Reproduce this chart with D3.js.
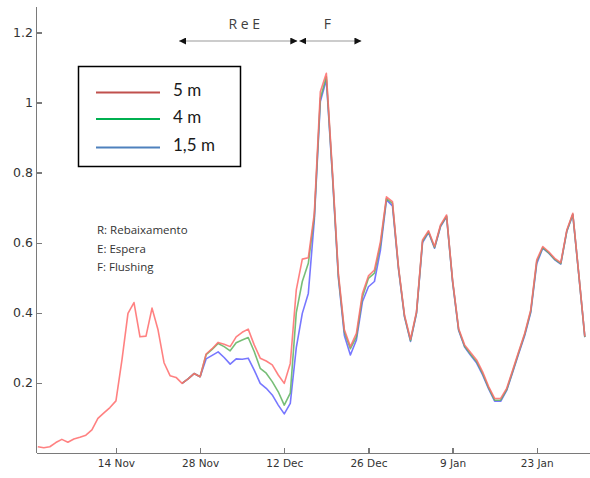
<!DOCTYPE html>
<html>
<head>
<meta charset="utf-8">
<script src="https://cdn.jsdelivr.net/npm/d3@7"></script>
<style>
    body {margin: 0; background: #fff;}
    svg {display: block; background: #fff;}
    .axis path, .axis line {stroke: #7a7a7a; stroke-width: 1.3; shape-rendering: crispEdges;}
    .y-axis text {font-family: "DejaVu Sans", sans-serif; font-size: 12.5px; fill: #333;}
    .x-axis text {font-family: "DejaVu Sans", sans-serif; font-size: 10.5px; fill: #333;}
    .series {fill: none; stroke-width: 1.6; stroke-linejoin: round; opacity: .85;}
    .note {font-family: "Open Sans", sans-serif; font-size: 11.5px; fill: #333;}
    .phase {font-family: "Open Sans", sans-serif; font-size: 14px; fill: #404040;}
    .legend-text {font-family: Lato, sans-serif; font-size: 17px; fill: #1a1a1a;}
</style>
</head>
<body>
<div id="chart"></div>
<script>
    // daily values, first day 1 Nov
    let redStart = "2021-11-01";
    let red5m = [0.017, 0.014, 0.017, 0.029, 0.038, 0.030, 0.039, 0.044, 0.050, 0.065,
        0.098, 0.114, 0.129, 0.148, 0.265, 0.398, 0.429, 0.331, 0.333, 0.413,
        0.351, 0.257, 0.220, 0.215, 0.198, 0.211, 0.226, 0.217, 0.282, 0.297,
        0.315, 0.310, 0.303, 0.331, 0.344, 0.353, 0.308, 0.270, 0.262, 0.251,
        0.222, 0.198, 0.255, 0.465, 0.553, 0.557, 0.684, 1.031, 1.084, 0.808,
        0.513, 0.351, 0.303, 0.341, 0.455, 0.505, 0.522, 0.603, 0.731, 0.717,
        0.531, 0.393, 0.324, 0.403, 0.608, 0.634, 0.589, 0.651, 0.679, 0.493,
        0.355, 0.308, 0.286, 0.265, 0.231, 0.189, 0.155, 0.155, 0.184, 0.236,
        0.289, 0.341, 0.408, 0.551, 0.589, 0.574, 0.555, 0.543, 0.636, 0.684,
        0.510, 0.332];

    // the 4 m and 1,5 m series start on 25 Nov
    let otherStart = "2021-11-25";
    let green4m = [0.198, 0.211, 0.226, 0.217, 0.280, 0.295, 0.312, 0.303, 0.291, 0.314,
        0.322, 0.329, 0.289, 0.241, 0.227, 0.203, 0.174, 0.136, 0.170, 0.400,
        0.489, 0.541, 0.674, 1.012, 1.074, 0.800, 0.505, 0.345, 0.297, 0.331,
        0.445, 0.498, 0.513, 0.594, 0.726, 0.712, 0.528, 0.390, 0.320, 0.400,
        0.604, 0.631, 0.586, 0.648, 0.676, 0.490, 0.352, 0.304, 0.281, 0.260,
        0.226, 0.185, 0.150, 0.150, 0.180, 0.233, 0.286, 0.338, 0.404, 0.546,
        0.586, 0.571, 0.552, 0.540, 0.633, 0.681, 0.508, 0.330];
    let blue15m = [0.198, 0.211, 0.226, 0.217, 0.268, 0.278, 0.288, 0.272, 0.253, 0.268,
        0.267, 0.270, 0.236, 0.198, 0.184, 0.165, 0.136, 0.111, 0.141, 0.300,
        0.398, 0.455, 0.665, 1.003, 1.065, 0.795, 0.500, 0.335, 0.279, 0.322,
        0.431, 0.474, 0.489, 0.579, 0.722, 0.705, 0.525, 0.388, 0.318, 0.398,
        0.600, 0.629, 0.584, 0.646, 0.674, 0.488, 0.350, 0.302, 0.278, 0.256,
        0.222, 0.182, 0.147, 0.147, 0.178, 0.230, 0.283, 0.335, 0.400, 0.540,
        0.584, 0.570, 0.551, 0.539, 0.632, 0.680, 0.507, 0.330];

    let seriesNames = ["5 m", "4 m", "1,5 m"];
    let lineColors = ["#ff6b6b", "#5fb35f", "#5f5fff"];
    let legendColors = ["#c0504d", "#00b050", "#4f81bd"];

    let xTickDates = ["2021-11-14", "2021-11-28", "2021-12-12", "2021-12-26", "2022-01-09", "2022-01-23"];
    let xTickLabels = ["14 Nov", "28 Nov", "12 Dec", "26 Dec", "9 Jan", "23 Jan"];
    let yTicks = [0.2, 0.4, 0.6, 0.8, 1, 1.2];
    let yTickLabels = ["0.2", "0.4", "0.6", "0.8", "1", "1.2"];

    let notes = ["R: Rebaixamento", "E: Espera", "F: Flushing"];
    let phaseLabels = ["R e E", "F"];
    let phaseBounds = ["2021-11-24T12:00Z", "2021-12-14T04:00Z", "2021-12-14T12:00Z", "2021-12-24T20:00Z"];

    let parseDay = d3.utcParse("%Y-%m-%d");
    let dayMs = 864e5;

    function toPoints(start, values) {
        let t0 = parseDay(start).getTime();
        return values.map(function(v, i) { return {date: new Date(t0 + i * dayMs), value: v}; });
    }

    let allSeries = [
        toPoints(otherStart, blue15m),
        toPoints(otherStart, green4m),
        toPoints(redStart, red5m)
    ];
    let drawColors = [lineColors[2], lineColors[1], lineColors[0]];

    let width = 590, height = 478;
    let margin = {top: 6, right: 0, bottom: 25.3, left: 36};

    let svg = d3.select("#chart").append("svg")
        .attr("width", width)
        .attr("height", height);

    let x = d3.scaleUtc()
        .domain([new Date(parseDay(redStart).getTime() - 0.3 * dayMs), new Date(parseDay(redStart).getTime() + 91.86 * dayMs)])
        .range([margin.left, width - margin.right]);

    let y = d3.scaleLinear()
        .domain([0, 1.276])
        .range([height - margin.bottom, margin.top]);

    let xAxis = d3.axisBottom(x)
        .tickValues(xTickDates.map(parseDay))
        .tickSizeInner(-5)
        .tickSizeOuter(0)
        .tickPadding(7)
        .tickFormat(function(d, i) { return xTickLabels[i]; });

    let yAxis = d3.axisLeft(y)
        .tickValues(yTicks)
        .tickSizeInner(-6)
        .tickSizeOuter(0)
        .tickPadding(3)
        .tickFormat(function(d, i) { return yTickLabels[i]; });

    svg.append("g")
        .attr("class", "axis x-axis")
        .attr("transform", "translate(0," + (height - margin.bottom) + ")")
        .call(xAxis);

    svg.append("g")
        .attr("class", "axis y-axis")
        .attr("transform", "translate(" + margin.left + ",0)")
        .call(yAxis);

    let line = d3.line()
        .x(function(d) { return x(d.date); })
        .y(function(d) { return y(d.value); });

    svg.selectAll(".series")
        .data(allSeries)
        .enter().append("path")
        .attr("class", "series")
        .attr("stroke", function(d, i) { return drawColors[i]; })
        .attr("d", line);

    // phase arrows at the top
    let defs = svg.append("defs");
    defs.append("marker")
        .attr("id", "arrow")
        .attr("viewBox", "0 0 10 10")
        .attr("refX", 10).attr("refY", 5)
        .attr("markerWidth", 7).attr("markerHeight", 7)
        .attr("markerUnits", "userSpaceOnUse")
        .attr("orient", "auto-start-reverse")
        .append("path")
        .attr("d", "M0,0L10,5L0,10Z")
        .attr("fill", "#111");

    let arrowY = 41;
    phaseLabels.forEach(function(label, i) {
        let x0 = x(new Date(phaseBounds[i * 2])),
            x1 = x(new Date(phaseBounds[i * 2 + 1]));
        svg.append("line")
            .attr("x1", x0).attr("x2", x1)
            .attr("y1", arrowY).attr("y2", arrowY)
            .attr("stroke", "#999")
            .attr("stroke-width", 1.2)
            .attr("marker-start", "url(#arrow)")
            .attr("marker-end", "url(#arrow)");
        svg.append("text")
            .attr("class", "phase")
            .attr("x", (x0 + x1) / 2 + (i === 0 ? 6 : -3))
            .attr("y", 28.5)
            .attr("text-anchor", "middle")
            .text(label);
    });

    // notes
    svg.selectAll(".note")
        .data(notes)
        .enter().append("text")
        .attr("class", "note")
        .attr("x", 97)
        .attr("y", function(d, i) { return 234 + i * 18.5; })
        .text(function(d) { return d; });

    // legend box
    let legend = svg.append("g").attr("class", "legend");
    legend.append("rect")
        .attr("x", 78.5).attr("y", 66.5)
        .attr("width", 162).attr("height", 100)
        .attr("fill", "#fff")
        .attr("stroke", "#000")
        .attr("stroke-width", 1.5);

    let legendRows = [92.5, 119, 147.5];
    seriesNames.forEach(function(name, i) {
        legend.append("line")
            .attr("x1", 96).attr("x2", 160)
            .attr("y1", legendRows[i]).attr("y2", legendRows[i])
            .attr("stroke", legendColors[i])
            .attr("stroke-width", 2.2);
        legend.append("text")
            .attr("class", "legend-text")
            .attr("x", 173)
            .attr("y", legendRows[i] + 3.5)
            .text(name);
    });
</script>
</body>
</html>
